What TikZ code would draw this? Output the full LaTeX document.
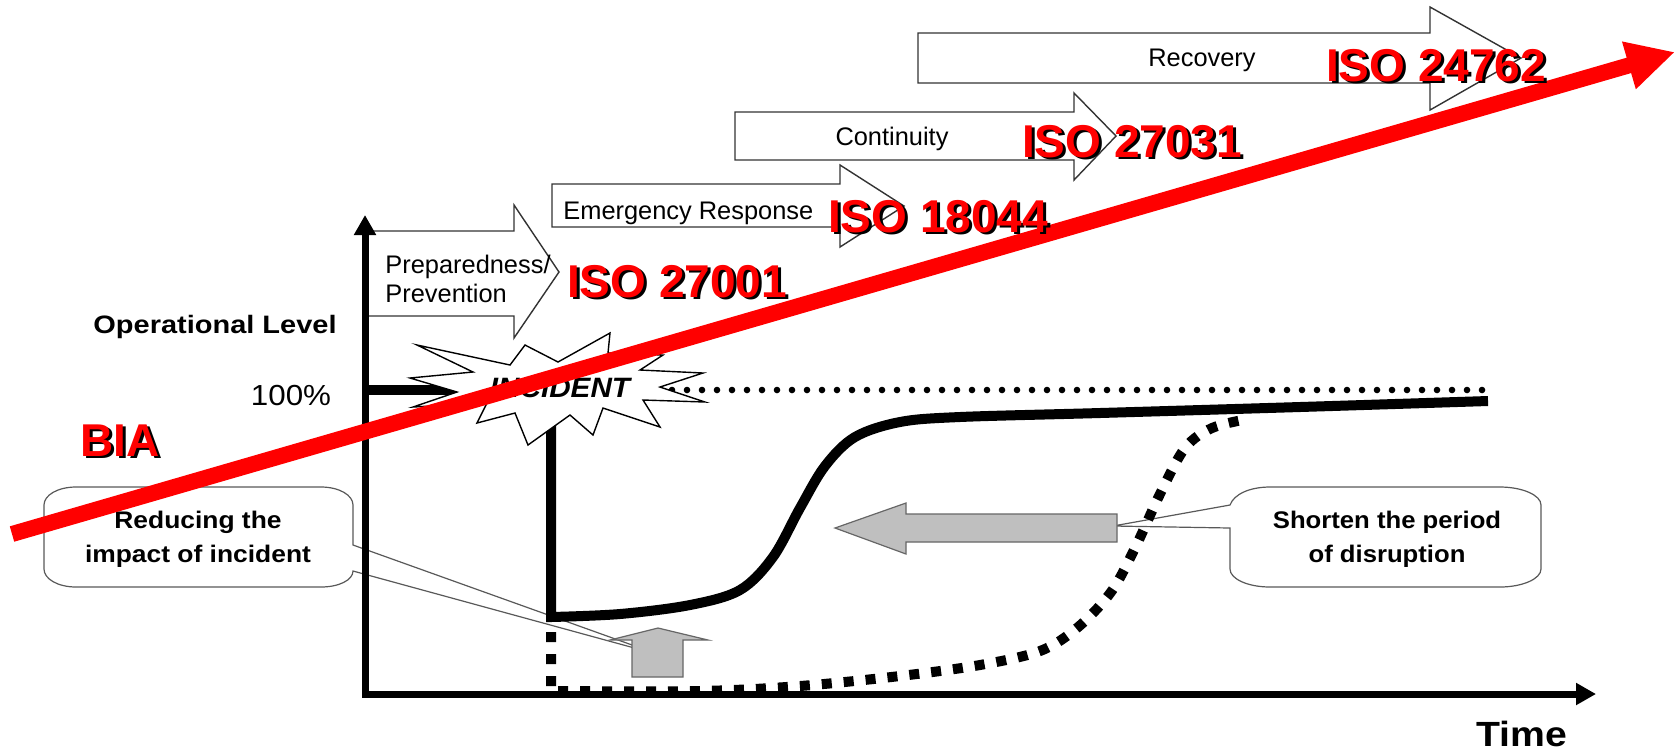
\documentclass[tikz,border=0pt]{standalone}
\usepackage{fontspec}
\setmainfont{Liberation Sans}
\usepackage{graphicx}
\usetikzlibrary{arrows.meta}

% horizontally widened text
\newcommand\wide[2][1.1]{\scalebox{#1}[1]{#2}}

% red standard label with a black drop shadow
\newcommand\redlabel[4]{%
  \node[isoshade] (#3-shade) at (#1+3,#2+2.5) {#4};
  \node[iso] (#3) at (#1,#2) {#4};}

\begin{document}
\begin{tikzpicture}[x=0.5pt,y=-0.5pt,
  callout/.style={draw=black!65, line width=0.6pt, fill=white},
  phase/.style={draw=black!80, line width=0.7pt, fill=white, line join=miter},
  phasetext/.style={font=\fontsize{12.7}{14.5}\selectfont, inner sep=0pt, anchor=base},
  boldtext/.style={font=\fontsize{12}{17}\selectfont\bfseries, inner sep=0pt, anchor=base},
  level/.style={line width=5pt, line join=miter},
  grayarrow/.style={fill=black!25, draw=black!60, line width=0.6pt, line join=miter},
  axis/.style={line width=3.5pt, line join=miter},
  iso/.style={font=\fontsize{23}{23}\selectfont\bfseries, text=red, inner sep=0pt, anchor=base},
  isoshade/.style={iso, text=black},
  bia/.style={red, line width=8pt, -{Triangle[length=24pt,width=23pt]}}
]
\useasboundingbox (0,0) rectangle (1675,752);

% ---- callouts (behind the chart) ----
\draw[callout] (76,487) -- (321,487) .. controls (339,487) and (353,495) .. (353,505)
  -- (353,545) -- (660,655) -- (353,571)
  .. controls (353,580) and (339,587) .. (321,587) -- (76,587)
  .. controls (58,587) and (44,579) .. (44,569) -- (44,505)
  .. controls (44,495) and (58,487) .. (76,487) -- cycle;
\draw[callout] (1270,487) -- (1500,487) .. controls (1522,487) and (1541,495) .. (1541,505)
  -- (1541,569) .. controls (1541,579) and (1522,587) .. (1500,587) -- (1270,587)
  .. controls (1248,587) and (1230,579) .. (1230,569) -- (1230,528)
  -- (1113,526) -- (1230,505)
  .. controls (1234,494) and (1250,487) .. (1270,487) -- cycle;

% ---- phase arrows ----
\draw[phase] (918,33) -- (1430,33) -- (1430,7) -- (1521,58) -- (1430,110) -- (1430,83) -- (918,83) -- cycle;
\draw[phase] (735,112) -- (1074,112) -- (1074,93) -- (1116,136) -- (1074,180) -- (1074,160) -- (735,160) -- cycle;
\draw[phase] (552,184) -- (840,184) -- (840,165) -- (904,206) -- (840,247) -- (840,227) -- (552,227) -- cycle;
\draw[phase] (365,231) -- (514,231) -- (514,205) -- (559,272) -- (514,338) -- (514,316) -- (365,316) -- cycle;

\node[phasetext] (recovery) at (1202,66) {Recovery};
\node[phasetext] (continuity) at (892,145) {Continuity};
\node[phasetext, anchor=base west] (emergency) at (563,219) {Emergency Response};
\node[phasetext, anchor=base west] (prep) at (385,273)
  {\begin{tabular}[t]{@{}l@{}}Preparedness/\\Prevention\end{tabular}};

% ---- axes ----
\coordinate (ytop) at (365,215);
\coordinate (origin) at (365,694);
\coordinate (xend) at (1596,694);
\draw[axis, {Triangle[length=10pt,width=10.5pt]}-{Triangle[length=10pt,width=10.5pt]}]
  (ytop) -- (origin) -- (xend);

% ---- operational level ----
\draw[level] (365,390) -- (470,390);
\draw[line width=3.3pt, line cap=round, dash pattern=on 0pt off 7.5pt] (672,390) -- (1490,390);
% recovery without preparation
\draw[level, dash pattern=on 5pt off 6pt] (551,632) -- (551,691)
  -- plot[smooth, tension=0.55] coordinates {(551,691) (700,691) (800,686) (900,676) (980,665)
     (1040,651) (1077,628) (1111,592) (1135,548) (1160,494) (1185,448) (1212,428) (1248,419)};
% recovery with preparation
\draw[level] (551,405) -- (551,617)
  -- plot[smooth, tension=0.55] coordinates {(551,617) (620,614) (690,605) (740,590) (773,557)
     (800,508) (825,466) (855,437) (900,422) (960,417) (1100,413) (1300,407) (1488,401)};

% ---- incident burst ----
\draw[fill=white, draw=black, line width=0.7pt, line join=miter]
  (417,345) -- (510,365) -- (525,345) -- (558,362) -- (610,333) -- (608,353) -- (663,355)
  -- (640,370) -- (703,373) -- (660,387) -- (705,402) -- (643,400) -- (660,427) -- (603,408)
  -- (593,435) -- (570,415) -- (528,445) -- (515,413) -- (477,423) -- (487,403) -- (413,407)
  -- (457,392) -- (410,378) -- (473,372) -- cycle;
\node[font=\fontsize{14}{14}\selectfont\bfseries\itshape, inner sep=0pt, anchor=base]
  (incident) at (560,397) {\wide[1.06]{INCIDENT}};

% ---- gray effect arrows ----
\draw[grayarrow] (632,677) -- (632,640) -- (610,640) -- (658,628) -- (708,640) -- (683,640) -- (683,677) -- cycle;
\draw[grayarrow] (1117,514) -- (906,514) -- (906,503) -- (835,528) -- (906,554) -- (906,542) -- (1117,542) -- cycle;

% ---- labels ----
\node[font=\fontsize{12.6}{14}\selectfont\bfseries, inner sep=0pt, anchor=base]
  (oplevel) at (215,333) {\wide[1.15]{Operational Level}};
\node[font=\fontsize{14.5}{15}\selectfont, inner sep=0pt, anchor=base]
  (full) at (291,405) {\wide[1.08]{100\%}};
\node[font=\fontsize{17.5}{18}\selectfont\bfseries, inner sep=0pt, anchor=base]
  (time) at (1522,746) {\wide[1.12]{Time}};
\node[boldtext] (reduce) at (198,528)
  {\wide{\begin{tabular}[t]{@{}c@{}}Reducing the\\impact of incident\end{tabular}}};
\node[boldtext] (shorten) at (1387,528)
  {\wide[1.07]{\begin{tabular}[t]{@{}c@{}}Shorten the period\\of disruption\end{tabular}}};

% ---- BIA arrow and standards ----
\coordinate (biaS) at (12,534);
\coordinate (biaT) at (1675,52);
\draw[bia] (biaS) -- (biaT);

\redlabel{120}{456}{bia}{BIA}
\redlabel{677}{297}{iso27001}{ISO 27001}
\redlabel{938}{232}{iso18044}{ISO 18044}
\redlabel{1132}{157}{iso27031}{ISO 27031}
\redlabel{1436}{81}{iso24762}{ISO 24762}
\end{tikzpicture}
\end{document}
